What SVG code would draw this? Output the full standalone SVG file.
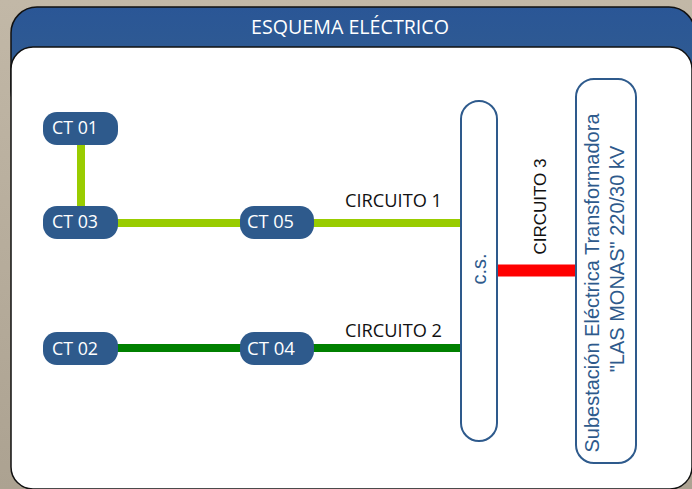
<svg xmlns="http://www.w3.org/2000/svg" width="692" height="489" viewBox="0 0 692 489">
<defs>
<linearGradient id="hdr" x1="0" y1="0" x2="0" y2="1">
<stop offset="0" stop-color="#2a5696"/>
<stop offset="1" stop-color="#345f8e"/>
</linearGradient>
<linearGradient id="bg" x1="0" y1="0" x2="0" y2="1">
<stop offset="0" stop-color="#c2b8a7"/>
<stop offset="1" stop-color="#aca291"/>
</linearGradient>
</defs>
<style>
.ct rect{fill:#2e5a8c;}
.ct text{fill:#ffffff;font-family:"Open Sans","Liberation Sans",sans-serif;font-size:17.5px;}
.lbl{fill:#111111;font-family:"Open Sans","Liberation Sans",sans-serif;font-size:17.5px;}
.vbox{fill:#ffffff;stroke:#2e5a8c;stroke-width:2;}
.vtext{fill:#2e5a8c;font-family:"Liberation Sans",Arial,sans-serif;font-size:20px;}
.lg{stroke:#99cc00;stroke-width:8;fill:none;}
.dg{stroke:#008000;stroke-width:8;fill:none;}
.rd{stroke:#ff0000;stroke-width:12;fill:none;}
</style>
<rect x="0" y="0" width="692" height="489" fill="url(#bg)"/>
<g id="panel">
<rect x="11" y="7" width="684" height="110" rx="26" fill="url(#hdr)" stroke="#111" stroke-width="1.5"/>
<text x="350" y="34" fill="#ffffff" font-family="Open Sans, Liberation Sans, sans-serif" font-size="19.5" text-anchor="middle" textLength="198" lengthAdjust="spacingAndGlyphs">ESQUEMA ELÉCTRICO</text>
<rect x="11" y="47" width="681" height="442" rx="22" fill="#ffffff" stroke="#111" stroke-width="1.5"/>
</g>
<g id="connectors">
<line class="lg" x1="81" y1="144" x2="81" y2="207"/>
<line class="lg" x1="117" y1="223" x2="241" y2="223"/>
<line class="lg" x1="313" y1="223" x2="461" y2="223"/>
<line class="dg" x1="117" y1="348" x2="241" y2="348"/>
<line class="dg" x1="313" y1="348" x2="461" y2="348"/>
<line class="rd" x1="497" y1="270.5" x2="576" y2="270.5"/>
<text class="lbl" x="345" y="207" textLength="97" lengthAdjust="spacingAndGlyphs">CIRCUITO 1</text>
<text class="lbl" x="345" y="337" textLength="97" lengthAdjust="spacingAndGlyphs">CIRCUITO 2</text>
<text transform="translate(546,206.5) rotate(-90)" text-anchor="middle" fill="#111" font-family="Liberation Sans, Arial, sans-serif" font-size="17">CIRCUITO 3</text>
</g>
<g id="ct01" class="ct"><rect x="43" y="112" width="75" height="33" rx="14"/><text x="52" y="134" textLength="46" lengthAdjust="spacingAndGlyphs">CT 01</text></g>
<g id="ct03" class="ct"><rect x="43" y="206" width="75" height="33" rx="14"/><text x="52" y="228" textLength="46" lengthAdjust="spacingAndGlyphs">CT 03</text></g>
<g id="ct05" class="ct"><rect x="240" y="206" width="74" height="33" rx="14"/><text x="247" y="228" textLength="47" lengthAdjust="spacingAndGlyphs">CT 05</text></g>
<g id="ct02" class="ct"><rect x="43" y="332" width="75" height="33" rx="14"/><text x="52" y="355" textLength="46" lengthAdjust="spacingAndGlyphs">CT 02</text></g>
<g id="ct04" class="ct"><rect x="240" y="332" width="74" height="33" rx="14"/><text x="247" y="355" textLength="48" lengthAdjust="spacingAndGlyphs">CT 04</text></g>
<g id="cs">
<rect class="vbox" x="461" y="101" width="36" height="340" rx="18"/>
<text class="vtext" transform="translate(486,269) rotate(-90)" text-anchor="middle">c.s.</text>
</g>
<g id="substation">
<rect class="vbox" x="576" y="79" width="60" height="384" rx="18"/>
<text class="vtext" transform="translate(599,283) rotate(-90)" text-anchor="middle">Subestación Eléctrica Transformadora</text>
<text class="vtext" transform="translate(624,259) rotate(-90)" text-anchor="middle">"LAS MONAS" 220/30 kV</text>
</g>
</svg>
